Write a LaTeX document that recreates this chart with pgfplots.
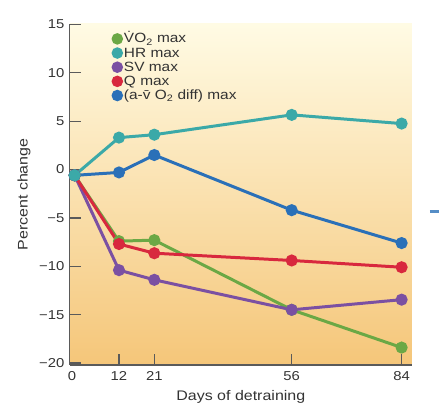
\documentclass[border=0pt]{standalone}
\usepackage{pgfplots}
\pgfplotsset{compat=1.18}
\usepackage{fontspec}
\setmainfont{Liberation Sans}[FakeStretch=1.15]

\definecolor{cVO}{HTML}{6BA845}
\definecolor{cHR}{HTML}{3BA9A8}
\definecolor{cSV}{HTML}{7B50A2}
\definecolor{cQ}{HTML}{D8283E}
\definecolor{cAV}{HTML}{2A70B8}
\definecolor{bgtop}{HTML}{FFFBE4}
\definecolor{bgbot}{HTML}{F5C679}
\definecolor{axgray}{HTML}{5A5A5A}
\definecolor{txt}{HTML}{333333}

\begin{document}
\begin{tikzpicture}
\begin{axis}[
  name=ax,
  scale only axis,
  width=343bp, height=342bp,
  xmin=-0.53, xmax=86.6,
  ymin=-20.2, ymax=15.05,
  axis x line*=bottom, axis y line*=left,
  axis line style={-, axgray, line width=1.3bp},
  axis background/.style={shade, top color=bgtop, bottom color=bgbot},
  tick align=inside,
  major tick length=11bp,
  tick style={axgray, line width=1.3bp},
  xtick={12,21,56,84},
  xticklabels={12,21,56,84},
  extra x ticks={0},
  extra x tick labels={0},
  extra x tick style={major tick length=0pt},
  ytick={-20,-15,-10,-5,0,5,10,15},
  yticklabels={−20,−15,−10,−5,0,5,10,15},
  /pgf/number format/assume math mode=true,
  ticklabel style={font=\fontsize{13}{15}\selectfont, text=txt},
  xticklabel style={yshift=-3bp},
  yticklabel style={xshift=-2bp},
  xlabel={Days of detraining},
  ylabel={Percent change},
  every axis x label/.style={at={(axis description cs:0.5,-0.093)}, anchor=center,
    font=\fontsize{14}{16}\selectfont, text=txt},
  every axis y label/.style={at={(axis description cs:-0.134,0.5)}, rotate=90, anchor=center,
    font=\fontsize{14}{16}\selectfont, text=txt},
  legend style={draw=none, fill=none, at={(axis description cs:0.113,0.983)}, anchor=north west,
    font=\fontsize{13.5}{15}\selectfont, text=txt, row sep=0.2bp,
    nodes={inner sep=1bp, text height=10bp, text depth=2bp},
    /tikz/every even column/.append style={column sep=0pt}},
  legend cell align=left,
  legend image code/.code={\fill[#1] (0.12cm,0cm) circle (4.2bp);},
  every axis plot/.append style={line width=3bp, mark=*, mark size=4.5bp},
]
\addplot[cVO] coordinates {(0.7,-0.6) (12,-7.4) (21,-7.3) (56,-14.5) (84,-18.4)};
\addlegendentry{\.{V}O\textsubscript{2} max}
\addplot[cHR] coordinates {(0.7,-0.6) (12,3.3) (21,3.6) (56,5.65) (84,4.75)};
\addlegendentry{HR max}
\addplot[cSV] coordinates {(0.7,-0.6) (12,-10.4) (21,-11.4) (56,-14.5) (84,-13.45)};
\addlegendentry{SV max}
\addplot[cQ] coordinates {(0.7,-0.6) (12,-7.7) (21,-8.65) (56,-9.4) (84,-10.1)};
\addlegendentry{Q max}
\addplot[cAV] coordinates {(0.7,-0.6) (12,-0.3) (21,1.5) (56,-4.2) (84,-7.6)};
\addlegendentry{(a-\={v} O\textsubscript{2} diff) max}
\addplot[cHR, mark=*, only marks, forget plot] coordinates {(0.7,-0.6)};
\end{axis}
\draw[color=cAV!80, line width=2.5bp] ([xshift=361bp,yshift=154bp]ax.south west) -- ++(9bp,0);
\path ([xshift=-70bp,yshift=-42bp]ax.south west) rectangle ([xshift=370bp,yshift=366bp]ax.south west);
\end{tikzpicture}
\end{document}
